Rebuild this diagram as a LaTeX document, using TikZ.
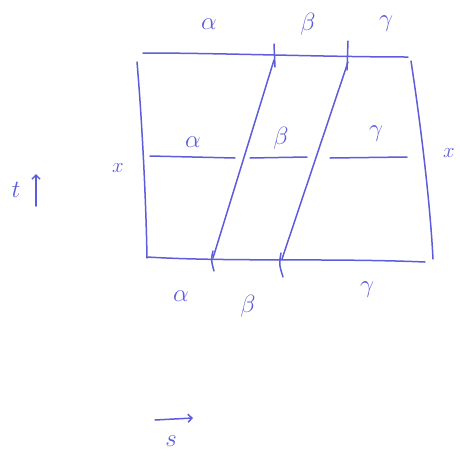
\documentclass[tikz,border=0pt]{standalone}
\usetikzlibrary{arrows.meta}
\definecolor{ink}{RGB}{92,92,220}
\tikzset{
  pen/.style={draw=ink, line width=1.5pt, line cap=round, line join=round},
  lbl/.style={text=ink, font=\fontsize{25}{30}\selectfont, inner sep=0pt},
  sidelbl/.style={text=ink, font=\fontsize{20}{24}\selectfont, inner sep=0pt}
}
\begin{document}
\begin{tikzpicture}[x=1pt,y=-1pt]
\useasboundingbox (0,0) rectangle (459,464);
% frame corners
\coordinate (tl) at (143,53);
\coordinate (tr) at (408,57);
\coordinate (lt) at (137,62);
\coordinate (lb) at (147,258);
\coordinate (rt) at (411,61);
\coordinate (rb) at (433,259);
\coordinate (bl) at (147,257);
\coordinate (br) at (425,262);
\draw[pen] (tl) .. controls (220,53) and (330,57) .. (tr);
\draw[pen] (lt) .. controls (142,120) and (146,200) .. (lb);
\draw[pen] (rt) .. controls (420,120) and (430,200) .. (rb);
\draw[pen] (bl) .. controls (230,262) and (330,258) .. (br);
% slanted lines
\coordinate (a1) at (274,60);
\coordinate (a2) at (213,258);
\coordinate (b1) at (348,62);
\coordinate (b2) at (282,259);
\draw[pen] (a1) -- (a2);
\draw[pen] (b1) -- (b2);
% ticks
\coordinate (ta1) at (274,44); \coordinate (ta2) at (275,67);
\coordinate (tb1) at (348,41); \coordinate (tb2) at (347,70);
\coordinate (ba1) at (213,251); \coordinate (ba2) at (214,271);
\coordinate (bb1) at (281,253); \coordinate (bb2) at (283,277);
\draw[pen] (ta1) -- (ta2);
\draw[pen] (tb1) -- (tb2);
\draw[pen] (ba1) .. controls (211,260) .. (ba2);
\draw[pen] (bb1) .. controls (279,264) .. (bb2);
% middle segments
\coordinate (m1a) at (150,156); \coordinate (m1b) at (235,158);
\coordinate (m2a) at (250,158); \coordinate (m2b) at (307,157);
\coordinate (m3a) at (330,158); \coordinate (m3b) at (407,157);
\draw[pen] (m1a) -- (m1b);
\draw[pen] (m2a) -- (m2b);
\draw[pen] (m3a) -- (m3b);
% labels
\node[lbl] (ta) at (209,24) {$\alpha$};
\node[lbl] (tbeta) at (308,24) {$\beta$};
\node[lbl] (tg) at (386,24) {$\gamma$};
\node[lbl] (ma) at (193,142) {$\alpha$};
\node[lbl] (mb) at (281,138) {$\beta$};
\node[lbl] (mg) at (376,134) {$\gamma$};
\node[lbl] (ba) at (181,296) {$\alpha$};
\node[lbl] (bbeta) at (248,306) {$\beta$};
\node[lbl] (bg) at (367,290) {$\gamma$};
\node[sidelbl] (xl) at (118,168) {$x$};
\node[sidelbl] (xr) at (449,153) {$x$};
% axes
\node[sidelbl, font=\fontsize{24}{28}\selectfont] (t) at (16,190) {$t$};
\coordinate (tA) at (36,206);
\coordinate (tB) at (36,174);
\draw[pen, -{Straight Barb[length=4pt,width=8pt]}] (tA) -- (tB);
\coordinate (sA) at (155,420);
\coordinate (sB) at (193,418);
\draw[pen, -{Straight Barb[length=4pt,width=8pt]}] (sA) -- (sB);
\node[sidelbl, anchor=north, font=\fontsize{24}{28}\selectfont] (s) at (171,436) {$s$};
\end{tikzpicture}
\end{document}
